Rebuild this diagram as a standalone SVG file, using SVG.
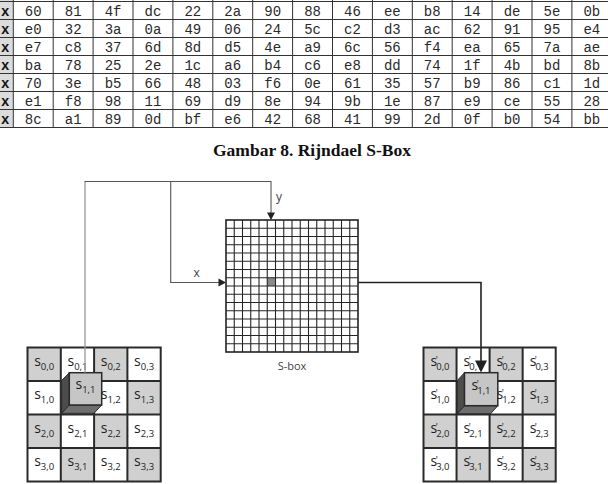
<svg xmlns="http://www.w3.org/2000/svg" width="608" height="484" viewBox="0 0 608 484">
<style>
.hex{font-family:"Liberation Mono","Courier New",monospace;font-size:14px;fill:#2a2a2a;text-anchor:middle}
.hdr{font-family:"Liberation Mono",monospace;font-size:14px;fill:#111;font-weight:bold}
.tl{stroke:#333;stroke-width:1;fill:none}
.cap{font-family:"Liberation Serif","Times New Roman",serif;font-size:17.5px;font-weight:bold;fill:#111;text-anchor:middle}
.lab{font-family:"Open Sans","Liberation Sans",sans-serif;font-size:14px;fill:#1e1e1e;text-anchor:middle}
.sub{font-size:9.5px}
.pr{font-size:9.5px}
.gc{fill:#d0d0d0}
.gl{stroke:#2a2a2a;stroke-width:2;fill:none}
.front{fill:#c6c6c6;stroke:#2a2a2a;stroke-width:1.5}
.side{fill:#4d4d4d;stroke:#2a2a2a;stroke-width:1}
.bot{fill:#6e6e6e;stroke:#2a2a2a;stroke-width:1}
.grid{stroke:#252525;stroke-width:1.1;fill:none}
.conn{stroke:#555;stroke-width:1.1;fill:none}
.al{font-family:"Open Sans","Liberation Sans",sans-serif;font-size:12px;fill:#444;text-anchor:middle}
</style>

<g id="sbox-table">
<rect x="0" y="0" width="13.3" height="127.5" fill="#dcdcdc"/>
<path class="tl" d="M0,1.5H608M0,19.5H608M0,37.5H608M0,55.5H608M0,73.5H608M0,91.5H608M0,109.5H608M0,127.5H608"/>
<path class="tl" d="M13.3,0V127.5M53.2,0V127.5M93.1,0V127.5M133,0V127.5M172.9,0V127.5M212.8,0V127.5M252.7,0V127.5M292.6,0V127.5M332.5,0V127.5M372.4,0V127.5M412.3,0V127.5M452.2,0V127.5M492.1,0V127.5M532,0V127.5M571.9,0V127.5"/>
<text class="hdr" x="1" y="16">x</text>
<text class="hdr" x="1" y="34">x</text>
<text class="hdr" x="1" y="52">x</text>
<text class="hdr" x="1" y="70">x</text>
<text class="hdr" x="1" y="88">x</text>
<text class="hdr" x="1" y="106">x</text>
<text class="hdr" x="1" y="124">x</text>
<text class="hex" y="16"><tspan x="33.25">60</tspan><tspan x="73.15">81</tspan><tspan x="113.05">4f</tspan><tspan x="152.95">dc</tspan><tspan x="192.85">22</tspan><tspan x="232.75">2a</tspan><tspan x="272.65">90</tspan><tspan x="312.55">88</tspan><tspan x="352.45">46</tspan><tspan x="392.35">ee</tspan><tspan x="432.25">b8</tspan><tspan x="472.15">14</tspan><tspan x="512.05">de</tspan><tspan x="551.95">5e</tspan><tspan x="591.85">0b</tspan></text>
<text class="hex" y="34"><tspan x="33.25">e0</tspan><tspan x="73.15">32</tspan><tspan x="113.05">3a</tspan><tspan x="152.95">0a</tspan><tspan x="192.85">49</tspan><tspan x="232.75">06</tspan><tspan x="272.65">24</tspan><tspan x="312.55">5c</tspan><tspan x="352.45">c2</tspan><tspan x="392.35">d3</tspan><tspan x="432.25">ac</tspan><tspan x="472.15">62</tspan><tspan x="512.05">91</tspan><tspan x="551.95">95</tspan><tspan x="591.85">e4</tspan></text>
<text class="hex" y="52"><tspan x="33.25">e7</tspan><tspan x="73.15">c8</tspan><tspan x="113.05">37</tspan><tspan x="152.95">6d</tspan><tspan x="192.85">8d</tspan><tspan x="232.75">d5</tspan><tspan x="272.65">4e</tspan><tspan x="312.55">a9</tspan><tspan x="352.45">6c</tspan><tspan x="392.35">56</tspan><tspan x="432.25">f4</tspan><tspan x="472.15">ea</tspan><tspan x="512.05">65</tspan><tspan x="551.95">7a</tspan><tspan x="591.85">ae</tspan></text>
<text class="hex" y="70"><tspan x="33.25">ba</tspan><tspan x="73.15">78</tspan><tspan x="113.05">25</tspan><tspan x="152.95">2e</tspan><tspan x="192.85">1c</tspan><tspan x="232.75">a6</tspan><tspan x="272.65">b4</tspan><tspan x="312.55">c6</tspan><tspan x="352.45">e8</tspan><tspan x="392.35">dd</tspan><tspan x="432.25">74</tspan><tspan x="472.15">1f</tspan><tspan x="512.05">4b</tspan><tspan x="551.95">bd</tspan><tspan x="591.85">8b</tspan></text>
<text class="hex" y="88"><tspan x="33.25">70</tspan><tspan x="73.15">3e</tspan><tspan x="113.05">b5</tspan><tspan x="152.95">66</tspan><tspan x="192.85">48</tspan><tspan x="232.75">03</tspan><tspan x="272.65">f6</tspan><tspan x="312.55">0e</tspan><tspan x="352.45">61</tspan><tspan x="392.35">35</tspan><tspan x="432.25">57</tspan><tspan x="472.15">b9</tspan><tspan x="512.05">86</tspan><tspan x="551.95">c1</tspan><tspan x="591.85">1d</tspan></text>
<text class="hex" y="106"><tspan x="33.25">e1</tspan><tspan x="73.15">f8</tspan><tspan x="113.05">98</tspan><tspan x="152.95">11</tspan><tspan x="192.85">69</tspan><tspan x="232.75">d9</tspan><tspan x="272.65">8e</tspan><tspan x="312.55">94</tspan><tspan x="352.45">9b</tspan><tspan x="392.35">1e</tspan><tspan x="432.25">87</tspan><tspan x="472.15">e9</tspan><tspan x="512.05">ce</tspan><tspan x="551.95">55</tspan><tspan x="591.85">28</tspan></text>
<text class="hex" y="124"><tspan x="33.25">8c</tspan><tspan x="73.15">a1</tspan><tspan x="113.05">89</tspan><tspan x="152.95">0d</tspan><tspan x="192.85">bf</tspan><tspan x="232.75">e6</tspan><tspan x="272.65">42</tspan><tspan x="312.55">68</tspan><tspan x="352.45">41</tspan><tspan x="392.35">99</tspan><tspan x="432.25">2d</tspan><tspan x="472.15">0f</tspan><tspan x="512.05">b0</tspan><tspan x="551.95">54</tspan><tspan x="591.85">bb</tspan></text>
</g>

<g id="caption">
<text class="cap" x="312" y="155.5">Gambar 8. Rijndael S-Box</text>
</g>

<g id="state-in">
<rect x="27.5" y="347.5" width="133.2" height="134" fill="#fff"/>
<rect class="gc" x="27.5" y="347.5" width="33.3" height="33.5"/>
<rect class="gc" x="94.1" y="347.5" width="33.3" height="33.5"/>
<rect class="gc" x="60.8" y="381" width="33.3" height="33.5"/>
<rect class="gc" x="127.4" y="381" width="33.3" height="33.5"/>
<rect class="gc" x="27.5" y="414.5" width="33.3" height="33.5"/>
<rect class="gc" x="94.1" y="414.5" width="33.3" height="33.5"/>
<rect class="gc" x="60.8" y="448" width="33.3" height="33.5"/>
<rect class="gc" x="127.4" y="448" width="33.3" height="33.5"/>
<path class="gl" d="M60.8,347.5V481.5M94.1,347.5V481.5M127.4,347.5V481.5M27.5,381H160.7M27.5,414.5H160.7M27.5,448H160.7"/>
<rect class="gl" x="27.5" y="347.5" width="133.2" height="134"/>
<text class="lab" x="44.2" y="365.5">s<tspan class="sub" dy="4">0,0</tspan></text>
<text class="lab" x="77.5" y="365.5">s<tspan class="sub" dy="4">0,1</tspan></text>
<text class="lab" x="110.8" y="365.5">s<tspan class="sub" dy="4">0,2</tspan></text>
<text class="lab" x="144.1" y="365.5">s<tspan class="sub" dy="4">0,3</tspan></text>
<text class="lab" x="44.2" y="399">s<tspan class="sub" dy="4">1,0</tspan></text>
<text class="lab" x="110.8" y="399">s<tspan class="sub" dy="4">1,2</tspan></text>
<text class="lab" x="144.1" y="399">s<tspan class="sub" dy="4">1,3</tspan></text>
<text class="lab" x="44.2" y="432.5">s<tspan class="sub" dy="4">2,0</tspan></text>
<text class="lab" x="77.5" y="432.5">s<tspan class="sub" dy="4">2,1</tspan></text>
<text class="lab" x="110.8" y="432.5">s<tspan class="sub" dy="4">2,2</tspan></text>
<text class="lab" x="144.1" y="432.5">s<tspan class="sub" dy="4">2,3</tspan></text>
<text class="lab" x="44.2" y="466">s<tspan class="sub" dy="4">3,0</tspan></text>
<text class="lab" x="77.5" y="466">s<tspan class="sub" dy="4">3,1</tspan></text>
<text class="lab" x="110.8" y="466">s<tspan class="sub" dy="4">3,2</tspan></text>
<text class="lab" x="144.1" y="466">s<tspan class="sub" dy="4">3,3</tspan></text>
<polygon class="side" points="69.3,372.7 61.7,380.5 61.7,413.3 69.3,405"/>
<polygon class="bot" points="69.3,405 101.7,405 94,413.3 61.7,413.3"/>
<rect class="front" x="69.3" y="372.7" width="32.4" height="32.3"/>
<text class="lab" x="85.5" y="389">s<tspan class="sub" dy="4">1,1</tspan></text>
</g>

<g id="sbox">
<rect x="226" y="220" width="132" height="132" fill="#fff"/>
<rect x="267.25" y="277.75" width="8.25" height="8.25" fill="#8a8a8a"/>
<path class="grid" d="M234.25,220V352M242.5,220V352M250.75,220V352M259,220V352M267.25,220V352M275.5,220V352M283.75,220V352M292,220V352M300.25,220V352M308.5,220V352M316.75,220V352M325,220V352M333.25,220V352M341.5,220V352M349.75,220V352M226,228.25H358M226,236.5H358M226,244.75H358M226,253H358M226,261.25H358M226,269.5H358M226,277.75H358M226,286H358M226,294.25H358M226,302.5H358M226,310.75H358M226,319H358M226,327.25H358M226,335.5H358M226,343.75H358"/>
<rect x="226" y="220" width="132" height="132" fill="none" stroke="#222" stroke-width="1.6"/>
<text class="al" x="292" y="370" style="font-size:11px">S-box</text>
</g>

<g id="state-out">
<rect x="423.5" y="347.5" width="132.2" height="134" fill="#fff"/>
<rect class="gc" x="423.5" y="347.5" width="33.05" height="33.5"/>
<rect class="gc" x="489.6" y="347.5" width="33.05" height="33.5"/>
<rect class="gc" x="456.55" y="381" width="33.05" height="33.5"/>
<rect class="gc" x="522.65" y="381" width="33.05" height="33.5"/>
<rect class="gc" x="423.5" y="414.5" width="33.05" height="33.5"/>
<rect class="gc" x="489.6" y="414.5" width="33.05" height="33.5"/>
<rect class="gc" x="456.55" y="448" width="33.05" height="33.5"/>
<rect class="gc" x="522.65" y="448" width="33.05" height="33.5"/>
<path class="gl" d="M456.55,347.5V481.5M489.6,347.5V481.5M522.65,347.5V481.5M423.5,381H555.7M423.5,414.5H555.7M423.5,448H555.7"/>
<rect class="gl" x="423.5" y="347.5" width="132.2" height="134"/>
<text class="lab" x="440" y="365.5">s<tspan class="pr" dx="-1.5" dy="-3">'</tspan><tspan class="sub" dx="-1.5" dy="7">0,0</tspan></text>
<text class="lab" x="473.1" y="365.5">s<tspan class="pr" dx="-1.5" dy="-3">'</tspan><tspan class="sub" dx="-1.5" dy="7">0,1</tspan></text>
<text class="lab" x="506.1" y="365.5">s<tspan class="pr" dx="-1.5" dy="-3">'</tspan><tspan class="sub" dx="-1.5" dy="7">0,2</tspan></text>
<text class="lab" x="539.2" y="365.5">s<tspan class="pr" dx="-1.5" dy="-3">'</tspan><tspan class="sub" dx="-1.5" dy="7">0,3</tspan></text>
<text class="lab" x="440" y="399">s<tspan class="pr" dx="-1.5" dy="-3">'</tspan><tspan class="sub" dx="-1.5" dy="7">1,0</tspan></text>
<text class="lab" x="506.1" y="399">s<tspan class="pr" dx="-1.5" dy="-3">'</tspan><tspan class="sub" dx="-1.5" dy="7">1,2</tspan></text>
<text class="lab" x="539.2" y="399">s<tspan class="pr" dx="-1.5" dy="-3">'</tspan><tspan class="sub" dx="-1.5" dy="7">1,3</tspan></text>
<text class="lab" x="440" y="432.5">s<tspan class="pr" dx="-1.5" dy="-3">'</tspan><tspan class="sub" dx="-1.5" dy="7">2,0</tspan></text>
<text class="lab" x="473.1" y="432.5">s<tspan class="pr" dx="-1.5" dy="-3">'</tspan><tspan class="sub" dx="-1.5" dy="7">2,1</tspan></text>
<text class="lab" x="506.1" y="432.5">s<tspan class="pr" dx="-1.5" dy="-3">'</tspan><tspan class="sub" dx="-1.5" dy="7">2,2</tspan></text>
<text class="lab" x="539.2" y="432.5">s<tspan class="pr" dx="-1.5" dy="-3">'</tspan><tspan class="sub" dx="-1.5" dy="7">2,3</tspan></text>
<text class="lab" x="440" y="466">s<tspan class="pr" dx="-1.5" dy="-3">'</tspan><tspan class="sub" dx="-1.5" dy="7">3,0</tspan></text>
<text class="lab" x="473.1" y="466">s<tspan class="pr" dx="-1.5" dy="-3">'</tspan><tspan class="sub" dx="-1.5" dy="7">3,1</tspan></text>
<text class="lab" x="506.1" y="466">s<tspan class="pr" dx="-1.5" dy="-3">'</tspan><tspan class="sub" dx="-1.5" dy="7">3,2</tspan></text>
<text class="lab" x="539.2" y="466">s<tspan class="pr" dx="-1.5" dy="-3">'</tspan><tspan class="sub" dx="-1.5" dy="7">3,3</tspan></text>
<polygon class="side" points="464.5,372.7 457.3,380.5 457.3,413.7 464.5,405.7"/>
<polygon class="bot" points="464.5,405.7 497.8,405.7 490.6,413.7 457.3,413.7"/>
<rect class="front" x="464.5" y="372.7" width="33.3" height="33"/>
<text class="lab" x="481" y="389.5">s<tspan class="pr" dx="-1.5" dy="-3">'</tspan><tspan class="sub" dx="-1.5" dy="7">1,1</tspan></text>
</g>

<g id="connectors">
<path d="M85,372.7V181.5" stroke="#9a9a9a" stroke-width="1.3" fill="none"/>
<path class="conn" d="M84.5,181.5H271V213"/>
<polygon points="267,212.5 275,212.5 271,220" fill="#222"/>
<path class="conn" d="M170.7,181.5V282.5H219"/>
<polygon points="218.5,278.5 218.5,286.5 226,282.5" fill="#222"/>
<path d="M358,282.5H481V361" stroke="#222" stroke-width="1.6" fill="none"/>
<polygon points="475,360.5 487,360.5 481,372.5" fill="#222"/>
<text class="al" x="196.7" y="276.5">x</text>
<text class="al" x="279" y="200.5">y</text>
</g>
</svg>
